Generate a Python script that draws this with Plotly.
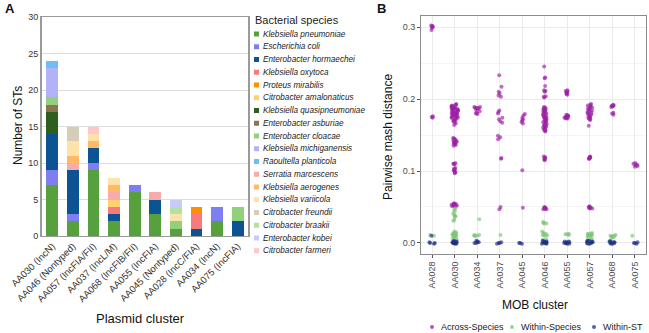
import plotly.graph_objects as go

W, H = 649, 333

# ---------------- Panel A data ----------------
clusters_a = ["AA030 (IncN)", "AA046 (Nontyped)", "AA057 (IncFIA/FII)", "AA037 (IncL/M)",
              "AA068 (IncFIB/FII)", "AA055 (IncFIA)", "AA045 (Nontyped)", "AA028 (IncC/FIA)",
              "AA034 (IncN)", "AA075 (IncFIA)"]
species = ["Klebsiella pneumoniae", "Escherichia coli", "Enterobacter hormaechei",
           "Klebsiella oxytoca", "Proteus mirabilis", "Citrobacter amalonaticus",
           "Klebsiella quasipneumoniae", "Enterobacter asburiae", "Enterobacter cloacae",
           "Klebsiella michiganensis", "Raoultella planticola", "Serratia marcescens",
           "Klebsiella aerogenes", "Klebsiella variicola", "Citrobacter freundii",
           "Citrobacter braakii", "Enterobacter kobei", "Citrobacter farmeri"]
k_pneumoniae = [7, 2, 9, 2, 6, 3, 1, 0, 2, 0]
e_coli = [2, 1, 1, 0, 1, 0, 0, 0, 2, 0]
e_hormaechei = [5, 6, 2, 1, 0, 2, 0, 1, 0, 2]
k_oxytoca = [0, 0, 0, 1, 0, 0, 0, 2, 0, 0]
p_mirabilis = [0, 0, 0, 0, 0, 0, 0, 1, 0, 0]
c_amalonaticus = [0, 0, 0, 1, 0, 0, 0, 0, 0, 0]
k_quasipneumoniae = [3, 0, 0, 0, 0, 0, 0, 0, 0, 0]
e_asburiae = [1, 0, 0, 0, 0, 0, 0, 0, 0, 0]
e_cloacae = [1, 0, 0, 0, 0, 0, 1, 0, 0, 2]
k_michiganensis = [4, 0, 0, 0, 0, 0, 0, 0, 0, 0]
r_planticola = [1, 0, 0, 0, 0, 0, 0, 0, 0, 0]
s_marcescens = [0, 1, 0, 1, 0, 1, 0, 0, 0, 0]
k_aerogenes = [0, 1, 1, 1, 0, 0, 0, 0, 0, 0]
k_variicola = [0, 2, 1, 1, 0, 0, 1, 0, 0, 0]
c_freundii = [0, 2, 0, 0, 0, 0, 0, 0, 0, 0]
c_braakii = [0, 0, 0, 0, 0, 0, 1, 0, 0, 0]
e_kobei = [0, 0, 0, 0, 0, 0, 1, 0, 0, 0]
c_farmeri = [0, 0, 1, 0, 0, 0, 0, 0, 0, 0]
species_values = [k_pneumoniae, e_coli, e_hormaechei, k_oxytoca, p_mirabilis, c_amalonaticus,
                  k_quasipneumoniae, e_asburiae, e_cloacae, k_michiganensis, r_planticola,
                  s_marcescens, k_aerogenes, k_variicola, c_freundii, c_braakii, e_kobei, c_farmeri]
species_colors = ["#56A03E", "#7E7EF2", "#0C5394", "#F77B7B", "#FF8F00", "#FFD070",
                  "#2F5F1F", "#8A7550", "#93D07A", "#B2B2F6", "#6BBFF5", "#F8ABAB",
                  "#FFBA66", "#FFE2AA", "#D5CDB5", "#B5E0A0", "#CACAF8", "#FFC8C8"]
ticks_a = [0, 5, 10, 15, 20, 25, 30]

# ---------------- Panel B data ----------------
clusters_b = ["AA028", "AA030", "AA034", "AA037", "AA045", "AA046", "AA055", "AA057", "AA068", "AA075"]
across_species = {
    "AA028": [0.301, 0.300, 0.301, 0.299, 0.302, 0.296, 0.175, 0.176, 0.174],
    "AA030": [0.193, 0.192, 0.191, 0.191, 0.190, 0.190, 0.189, 0.189, 0.188, 0.188, 0.187, 0.187,
              0.186, 0.186, 0.185, 0.185, 0.184, 0.184, 0.183, 0.183, 0.182, 0.182, 0.181, 0.181,
              0.180, 0.180, 0.179, 0.179, 0.178, 0.178, 0.177, 0.177, 0.176, 0.176, 0.175, 0.175,
              0.174, 0.174, 0.173, 0.172, 0.171, 0.170, 0.169, 0.168, 0.166, 0.164,
              0.146, 0.145, 0.144, 0.143, 0.142, 0.141, 0.140, 0.140, 0.139, 0.138, 0.137, 0.136, 0.135,
              0.111, 0.110, 0.110, 0.109,
              0.104, 0.103, 0.102, 0.101, 0.100, 0.099, 0.098, 0.097,
              0.055, 0.055, 0.054, 0.054, 0.053, 0.053, 0.052, 0.052, 0.051, 0.051],
    "AA034": [0.189, 0.189, 0.188, 0.188, 0.187, 0.186, 0.185, 0.183, 0.181, 0.180, 0.179],
    "AA037": [0.233, 0.217, 0.210, 0.208, 0.205, 0.203, 0.184, 0.182, 0.180, 0.174, 0.172, 0.169,
              0.167, 0.149, 0.147, 0.144, 0.118, 0.117, 0.050, 0.047],
    "AA045": [0.179, 0.177, 0.174, 0.172, 0.170, 0.168, 0.166, 0.101, 0.049],
    "AA046": [0.245, 0.230, 0.229, 0.218, 0.212, 0.211, 0.210, 0.204, 0.203, 0.202,
              0.189, 0.188, 0.187, 0.186, 0.185, 0.185, 0.184, 0.183, 0.182, 0.181, 0.180, 0.179,
              0.178, 0.177, 0.176, 0.175, 0.175, 0.174, 0.173, 0.172, 0.171, 0.170, 0.169, 0.168,
              0.167, 0.166, 0.165, 0.164, 0.163, 0.162, 0.161, 0.160, 0.159, 0.158, 0.157, 0.156, 0.155,
              0.120, 0.119, 0.118, 0.117, 0.116, 0.115,
              0.050, 0.049, 0.049, 0.048, 0.048, 0.047, 0.047],
    "AA055": [0.212, 0.211, 0.210, 0.209, 0.208, 0.207, 0.206,
              0.178, 0.177, 0.177, 0.176, 0.176, 0.175, 0.175, 0.174, 0.174, 0.173, 0.173],
    "AA057": [0.193, 0.192, 0.191, 0.190, 0.189, 0.188, 0.187, 0.186, 0.185, 0.184, 0.183, 0.182,
              0.181, 0.180, 0.179, 0.178, 0.177, 0.176, 0.175, 0.174, 0.173, 0.172, 0.171, 0.163,
              0.120, 0.119, 0.119, 0.118, 0.118, 0.117, 0.117,
              0.051, 0.050, 0.050, 0.049, 0.049, 0.048, 0.048],
    "AA068": [0.192, 0.191, 0.191, 0.190, 0.190, 0.189, 0.181, 0.180, 0.178],
    "AA075": [0.111, 0.110, 0.109, 0.108, 0.107, 0.106],
}
within_species = {
    "AA028": [0.010, 0.011],
    "AA030": [0.048, 0.046, 0.044, 0.041, 0.039, 0.038, 0.037, 0.036, 0.032, 0.031, 0.016, 0.015,
              0.014, 0.013, 0.013, 0.012, 0.012, 0.011, 0.011, 0.010, 0.010, 0.009, 0.008, 0.006, 0.005],
    "AA034": [0.033, 0.011, 0.011, 0.010, 0.010, 0.010],
    "AA037": [0.011],
    "AA045": [],
    "AA046": [0.029, 0.028, 0.027, 0.027, 0.016, 0.014, 0.013, 0.012, 0.011, 0.010, 0.010, 0.005, 0.004, 0.003],
    "AA055": [0.013, 0.012, 0.012, 0.011],
    "AA057": [0.014, 0.013, 0.013, 0.012, 0.012, 0.011, 0.011, 0.010, 0.010, 0.009, 0.008, 0.005, 0.004],
    "AA068": [0.011, 0.010, 0.010, 0.009, 0.009, 0.008, 0.004, 0.003],
    "AA075": [0.010],
}
within_st = {
    "AA028": [0.010, 0.001, 0.000, 0.000, -0.001],
    "AA030": [0.003, 0.002, 0.002, 0.001, 0.001, 0.001, 0.000, 0.000, 0.000, 0.000, -0.001, -0.001],
    "AA034": [0.003, 0.002, 0.001, 0.001, 0.000, 0.000],
    "AA037": [0.001, 0.000, 0.000, -0.001],
    "AA045": [0.000, 0.000, -0.001],
    "AA046": [0.003, 0.002, 0.002, 0.001, 0.001, 0.000, 0.000, 0.000, -0.001, -0.001],
    "AA055": [0.002, 0.002, 0.001, 0.001, 0.000, 0.000, 0.000, -0.001, -0.001],
    "AA057": [0.003, 0.003, 0.002, 0.002, 0.001, 0.001, 0.000, 0.000, -0.001, -0.001],
    "AA068": [0.002, 0.002, 0.001, 0.001, 0.000, 0.000, -0.001, -0.001],
    "AA075": [0.001, 0.000, 0.000, -0.001],
}
groups_b = ["Across-Species", "Within-Species", "Within-ST"]
group_data = [across_species, within_species, within_st]
group_colors = ["#9B1FA3", "#7CC576", "#1F2D86"]
ticks_b = [0.0, 0.1, 0.2, 0.3]

FONT = "Liberation Sans, Arial, sans-serif"

fig = go.Figure()

# Panel A bars
for name, vals, col in zip(species, species_values, species_colors):
    fig.add_trace(go.Bar(x=clusters_a, y=vals, name=name, marker=dict(color=col, line=dict(width=0)),
                         xaxis="x", yaxis="y", showlegend=False))

# Panel B strip points (plotly box traces with all points, boxes hidden)
for gname, gdata, gcol in zip(groups_b, group_data, group_colors):
    xs, ys = [], []
    for c in clusters_b:
        xs += [c] * len(gdata[c])
        ys += gdata[c]
    fig.add_trace(go.Box(x=xs, y=ys, name=gname, boxpoints="all", jitter=0.6, pointpos=0,
                         fillcolor="rgba(0,0,0,0)", line=dict(width=0, color="rgba(0,0,0,0)"),
                         marker=dict(color=gcol, size=4, opacity=0.65),
                         xaxis="x2", yaxis="y2", showlegend=False, hoveron="points"))


def px(x):
    return x / W


def py(y):
    return 1 - y / H


fig.update_layout(
    width=W, height=H, margin=dict(l=0, r=0, t=0, b=0, autoexpand=False),
    paper_bgcolor="white", plot_bgcolor="white", showlegend=False,
    font=dict(family=FONT, size=9, color="#333"),
    barmode="stack", bargap=0.42, boxmode="overlay",
    xaxis=dict(domain=[px(42), px(248)], categoryorder="array", categoryarray=clusters_a,
               tickangle=-45, tickfont=dict(size=9.5, color="#333"), showgrid=False,
               showline=True, linecolor="#9a9a9a", linewidth=1, mirror=True, ticks="",
               automargin=False, anchor="y", zeroline=False),
    yaxis=dict(domain=[py(236), py(17)], range=[0, 30], tickvals=ticks_a,
               tickfont=dict(size=9, color="#333"), showgrid=True, gridcolor="#dcdcdc",
               showline=True, linecolor="#9a9a9a", linewidth=2, mirror=True, ticks="",
               automargin=False, anchor="x", zeroline=False),
    xaxis2=dict(domain=[px(421), px(646)], categoryorder="array", categoryarray=clusters_b,
                tickangle=-90, tickfont=dict(size=9, color="#4d4d4d"), showgrid=True,
                gridcolor="#ebebeb", showline=True, linecolor="#8c8c8c", linewidth=1, mirror=True,
                ticks="outside", ticklen=3, tickcolor="#555",
                automargin=False, anchor="y2", zeroline=False),
    yaxis2=dict(domain=[py(254), py(16)], range=[-0.0153, 0.3153], tickvals=ticks_b,
                tickformat=".1f", tickfont=dict(size=9, color="#4d4d4d"), showgrid=True,
                gridcolor="#ebebeb", minor=dict(dtick=0.05, showgrid=True, gridcolor="#f5f5f5"),
                showline=True, linecolor="#8c8c8c", linewidth=1, mirror=True,
                ticks="outside", ticklen=3, tickcolor="#555",
                automargin=False, anchor="x2", zeroline=False),
)


def note(text, x, y, size, color="#111", angle=0, xanchor="center", bold=False, italic=False):
    if bold:
        text = "<b>" + text + "</b>"
    if italic:
        text = "<i>" + text + "</i>"
    return dict(text=text, x=px(x), y=py(y), xref="paper", yref="paper", xanchor=xanchor,
                yanchor="middle", showarrow=False, textangle=angle,
                font=dict(size=size, color=color, family=FONT))


annotations = [
    note("A", 3, 9, 13, bold=True, xanchor="left"),
    note("B", 375, 9, 13, bold=True, xanchor="left"),
    note("Number of STs", 18, 126, 12, angle=-90),
    note("Plasmid cluster", 140, 318, 13),
    note("Pairwise mash distance", 388, 137, 12, angle=-90),
    note("MOB cluster", 535, 305, 12),
    note("Bacterial species", 253, 20, 11, color="#222", xanchor="left"),
]
shapes = []
for i, (name, col) in enumerate(zip(species, species_colors)):
    yc = 34 + i * 12.75
    shapes.append(dict(type="rect", xref="paper", yref="paper", x0=px(254), x1=px(259),
                       y0=py(yc + 2.5), y1=py(yc - 2.5), fillcolor=col, line=dict(width=0)))
    annotations.append(note(name, 261, yc, 8.2, color="#222", xanchor="left", italic=True))

# Panel B legend (dots + labels)
legend_b_x = [432, 512, 594]
for gname, gcol, lx in zip(groups_b, group_colors, legend_b_x):
    shapes.append(dict(type="circle", xref="paper", yref="paper", x0=px(lx - 2), x1=px(lx + 2),
                       y0=py(327 + 2), y1=py(327 - 2), fillcolor=gcol, opacity=0.75,
                       line=dict(width=0)))
    annotations.append(note(gname, lx + 7, 327, 9, color="#222", xanchor="left"))

fig.update_layout(annotations=annotations, shapes=shapes)

fig.write_html("out.html", config={"displayModeBar": False},
               post_script="document.body.style.margin='0';document.body.style.overflow='hidden';")
